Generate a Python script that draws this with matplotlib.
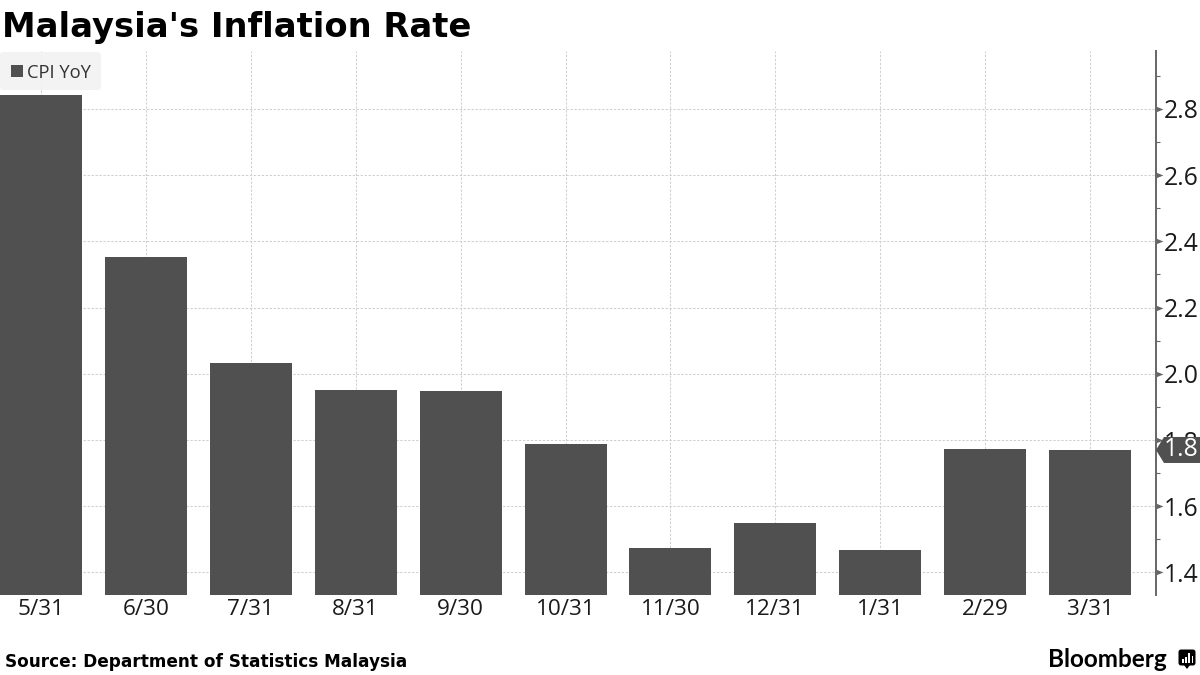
import matplotlib
matplotlib.use("Agg")
import matplotlib.pyplot as plt
from matplotlib.patches import Rectangle, Polygon, FancyBboxPatch
from matplotlib.path import Path
from matplotlib.transforms import Affine2D
from matplotlib.ticker import FixedLocator, FuncFormatter

categories = ["5/31", "6/30", "7/31", "8/31", "9/30", "10/31", "11/30", "12/31", "1/31", "2/29", "3/31"]
cpi_yoy = [2.842, 2.353, 2.033, 1.951, 1.948, 1.788, 1.474, 1.550, 1.468, 1.773, 1.770]
major_ticks = [1.4, 1.6, 1.8, 2.0, 2.2, 2.4, 2.6, 2.8]
minor_ticks = [1.5, 1.7, 1.9, 2.1, 2.3, 2.5, 2.7, 2.9]
title = "Malaysia's Inflation Rate"
source = "Source: Department of Statistics Malaysia"
series_name = "CPI YoY"
last_label = "1.8"

BAR = "#505050"
AXIS = "#666666"
GRID = "#cfcfcf"
INK = "#1a1a1a"
LABEL_FONT = "Open Sans"

W, H = 1200, 675
fig = plt.figure(figsize=(12, 6.75), dpi=100, facecolor="white")
px = Affine2D().scale(1 / W, -1 / H).translate(0, 1) + fig.transFigure

ax = fig.add_axes([0, (H - 595) / H, 1155.5 / W, (595 - 51) / H])
ax.set_xlim(-0.391, 10.624)
ax.set_ylim(1.332, 2.975)
ax.set_axisbelow(True)
ax.patch.set_alpha(0)

xs = list(range(len(categories)))
ax.bar(xs, cpi_yoy, width=0.782, color=BAR, linewidth=0, zorder=3)

for s in ["top", "left", "bottom"]:
    ax.spines[s].set_visible(False)
ax.spines["right"].set_color(AXIS)
ax.spines["right"].set_linewidth(1.4)

ax.set_xticks(xs)
ax.set_xticklabels(categories, fontsize=16.2, color=INK, family=LABEL_FONT)
ax.tick_params(axis="x", length=0, pad=3.2)

ax.yaxis.tick_right()
ax.yaxis.set_major_locator(FixedLocator(major_ticks))
ax.yaxis.set_minor_locator(FixedLocator(minor_ticks))
ax.yaxis.set_major_formatter(FuncFormatter(lambda v, _: f"{v:.1f}"))
ax.tick_params(axis="y", which="major", length=5, width=1, color=AXIS, pad=0.8,
               labelsize=17.8, labelcolor=INK, labelfontfamily=LABEL_FONT)
ax.tick_params(axis="y", which="minor", length=3, width=0.8, color=AXIS)
tri = Path([(0, -0.4), (1, 0), (0, 0.4), (0, -0.4)], closed=True)
for t in ax.yaxis.get_major_ticks():
    t.tick2line.set_marker(tri)
    t.tick2line.set_markersize(10)
    t.tick2line.set_markerfacecolor(AXIS)
    t.tick2line.set_markeredgewidth(0)

ax.grid(True, axis="both", which="major", color=GRID, linestyle=(0, (2.2, 1.6)), linewidth=0.75)

# Title, source
fig.text(2 / W, 1 - 37 / H, title, fontsize=24.35, fontweight="bold", color="black",
         family="DejaVu Sans", va="baseline", ha="left")
fig.text(5 / W, 1 - 667 / H, source, fontsize=12.2, fontweight="bold", color="black",
         family="DejaVu Sans", va="baseline", ha="left")

# Legend
fig.add_artist(FancyBboxPatch((2, 54), 97, 34, boxstyle="round,pad=2,rounding_size=3",
                              transform=px, facecolor="#f2f2f2", edgecolor="none", alpha=0.9, zorder=5))
fig.add_artist(Rectangle((11, 65), 12, 12, transform=px, facecolor=BAR, edgecolor="none", zorder=6))
fig.text(27 / W, 1 - 77.5 / H, series_name, fontsize=13.2, color="#333333", family=LABEL_FONT,
         va="baseline", ha="left", zorder=6)

# Last value tag
fig.canvas.draw()
yd = ax.transData.transform((0, cpi_yoy[-1]))[1]
yc = H - yd
tag = Polygon([(1156, yc), (1164, yc - 13), (1200, yc - 13), (1200, yc + 13), (1164, yc + 13)],
              closed=True, transform=px, facecolor="#505050", edgecolor="none", zorder=7)
fig.add_artist(tag)
fig.text(1181.5 / W, yd / H, last_label, fontsize=17.8, color="white", family=LABEL_FONT,
         va="center", ha="center", zorder=8)

# Bloomberg wordmark
fig.text(1048 / W, 1 - 667 / H, "Bloomberg", fontsize=17.5, fontweight="bold", color="black",
         family="Lato", va="baseline", ha="left")
fig.add_artist(FancyBboxPatch((1179, 650), 16, 15, boxstyle="round,pad=0.5,rounding_size=2.5",
                              transform=px, facecolor="black", edgecolor="none"))
fig.add_artist(Polygon([(1184, 665), (1190, 665), (1187, 669)], closed=True, transform=px,
                       facecolor="black", edgecolor="none"))
for bx, by in [(1182, 659), (1185.2, 657), (1188.4, 653), (1191.6, 656)]:
    fig.add_artist(Rectangle((bx, by), 1.6, 663 - by, transform=px, facecolor="white", edgecolor="none", zorder=6))

fig.savefig("out.png", dpi=100, facecolor="white")
